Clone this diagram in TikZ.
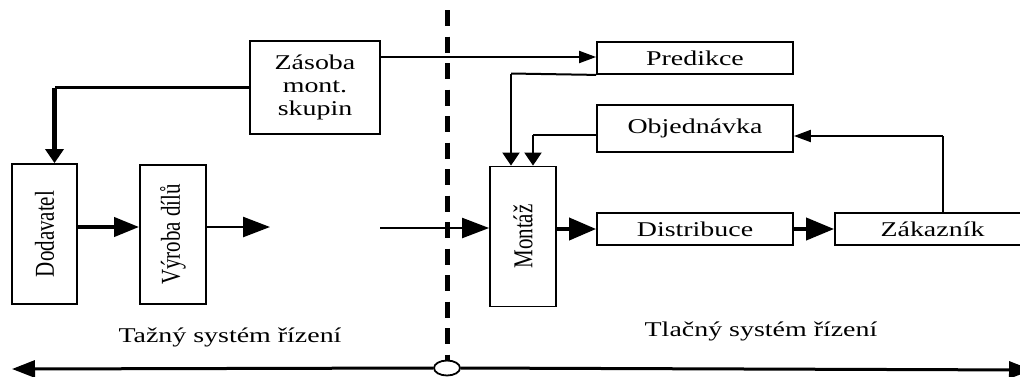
\documentclass[tikz,border=0pt]{standalone}
\usepackage{fontspec}
\usepackage{graphicx}
\setmainfont{Liberation Serif}
\newfontfamily\widefont[FakeStretch=1.33]{Liberation Serif}
\usetikzlibrary{arrows.meta,shapes.geometric}

\begin{document}
\begin{tikzpicture}[x=1pt,y=-1pt,
  boxframe/.style={draw, line width=1.8pt, inner sep=0pt, align=center,
    font=\widefont\fontsize{21}{23}\selectfont},
  upright/.style={draw, line width=1.8pt, inner sep=0pt},
  lbl/.style={inner sep=0pt, font=\widefont\fontsize{21}{23}\selectfont},
  thinln/.style={line width=2pt},
  heavyln/.style={line width=4pt},
  bigtip/.style={-{Triangle[length=27pt,width=20pt]}},
  downtip/.style={-{Triangle[length=14pt,width=18pt]}},
  smalltip/.style={-{Triangle[length=17pt,width=12pt]}},
  sidetip/.style={-{Triangle[length=13pt,width=17pt]}},
  endtip/.style={-{Triangle[length=23pt,width=17pt]}}
]
\useasboundingbox (0,0) rectangle (1020,376);
\clip (0,0) rectangle (1020,376);

% blocks
\node[boxframe, minimum width=130pt, minimum height=93pt] (zas) at (315,87.5)
  {Zásoba\\mont.\\skupin};
\node[upright, minimum width=65pt, minimum height=140pt] (dod) at (44.5,234)
  {\rotatebox{90}{\scalebox{1}[1.3]{\fontsize{21}{23}\selectfont Dodavatel}}};
\node[upright, minimum width=66pt, minimum height=139pt] (vyr) at (173,234.5)
  {\rotatebox{90}{\scalebox{1}[1.3]{\fontsize{21}{23}\selectfont Výroba dílů}}};
\node[upright, minimum width=66pt, minimum height=140pt] (mon) at (523,236.5)
  {\rotatebox{90}{\scalebox{1}[1.3]{\fontsize{21}{23}\selectfont Montáž}}};
\node[boxframe, minimum width=196pt, minimum height=32pt] (pre) at (695,58) {Predikce};
\node[boxframe, minimum width=196pt, minimum height=47pt] (obj) at (695,128.5) {Objednávka};
\node[boxframe, minimum width=196pt, minimum height=32pt] (dis) at (695,229) {Distribuce};
\node[boxframe, minimum width=195pt, minimum height=32pt] (zak) at (932.5,229) {Zákazník};

% captions
\node[lbl] (tazny) at (230,337) {Tažný systém řízení};
\node[lbl] (tlacny) at (761,331) {Tlačný systém řízení};

% boundary between the two control systems
\node[draw, ellipse, line width=1.8pt, fill=white, inner sep=0pt,
  minimum width=26pt, minimum height=15pt] (mid) at (447,368) {};
\coordinate (dtop) at (447,10);
\draw[line width=5pt, dash pattern=on 16pt off 10.5pt] (dtop) -- (mid.north);

% bottom double-headed axis
\coordinate (lend) at (12,369);
\coordinate (rend) at (1032,370);
\draw[line width=3pt, endtip] (mid.west) -- (lend);
\draw[line width=3pt, endtip] (mid.east) -- (rend);

% pull side
\coordinate (dodin) at ([xshift=10pt]dod.north);
\coordinate (rowA) at (0,227);
\coordinate (rowB) at (0,228);
\coordinate (vyrout) at (270,227);
\coordinate (monin) at (380,228);
\draw[line width=2.2pt] (zas.west) -- (zas.west -| dodin);
\draw[line width=5pt, downtip] (zas.west -| dodin) -- (dodin);
\draw[heavyln, -{Triangle[length=25pt,width=19pt]}] (dod.east |- rowA) -- (vyr.west |- rowA);
\draw[line width=2.5pt, bigtip] (vyr.east |- rowA) -- (vyrout);
\draw[line width=2.2pt, bigtip] (monin) -- (mon.west |- rowB);

% push side
\coordinate (rowZ) at (0,57);
\coordinate (preknee) at (511,73.5);
\coordinate (objknee) at (533,135);
\coordinate (zakup) at (943,136);
\draw[thinln, smalltip] (zas.east |- rowZ) -- (pre.west |- rowZ);
\draw[thinln] (pre.south west) -- (preknee);
\draw[thinln, sidetip] (preknee) -- (preknee |- mon.north);
\draw[thinln] (obj.west |- objknee) -- (objknee);
\draw[thinln, sidetip] (objknee) -- (objknee |- mon.north);
\draw[heavyln, -{Triangle[length=27pt,width=22pt]}] (mon.east |- dis.west) -- (dis.west);
\draw[heavyln, -{Triangle[length=28pt,width=22pt]}] (dis.east) -- (zak.west);
\draw[thinln] (zak.north -| zakup) -- (zakup);
\draw[thinln, smalltip] (zakup) -- (obj.east |- zakup);
\end{tikzpicture}
\end{document}
